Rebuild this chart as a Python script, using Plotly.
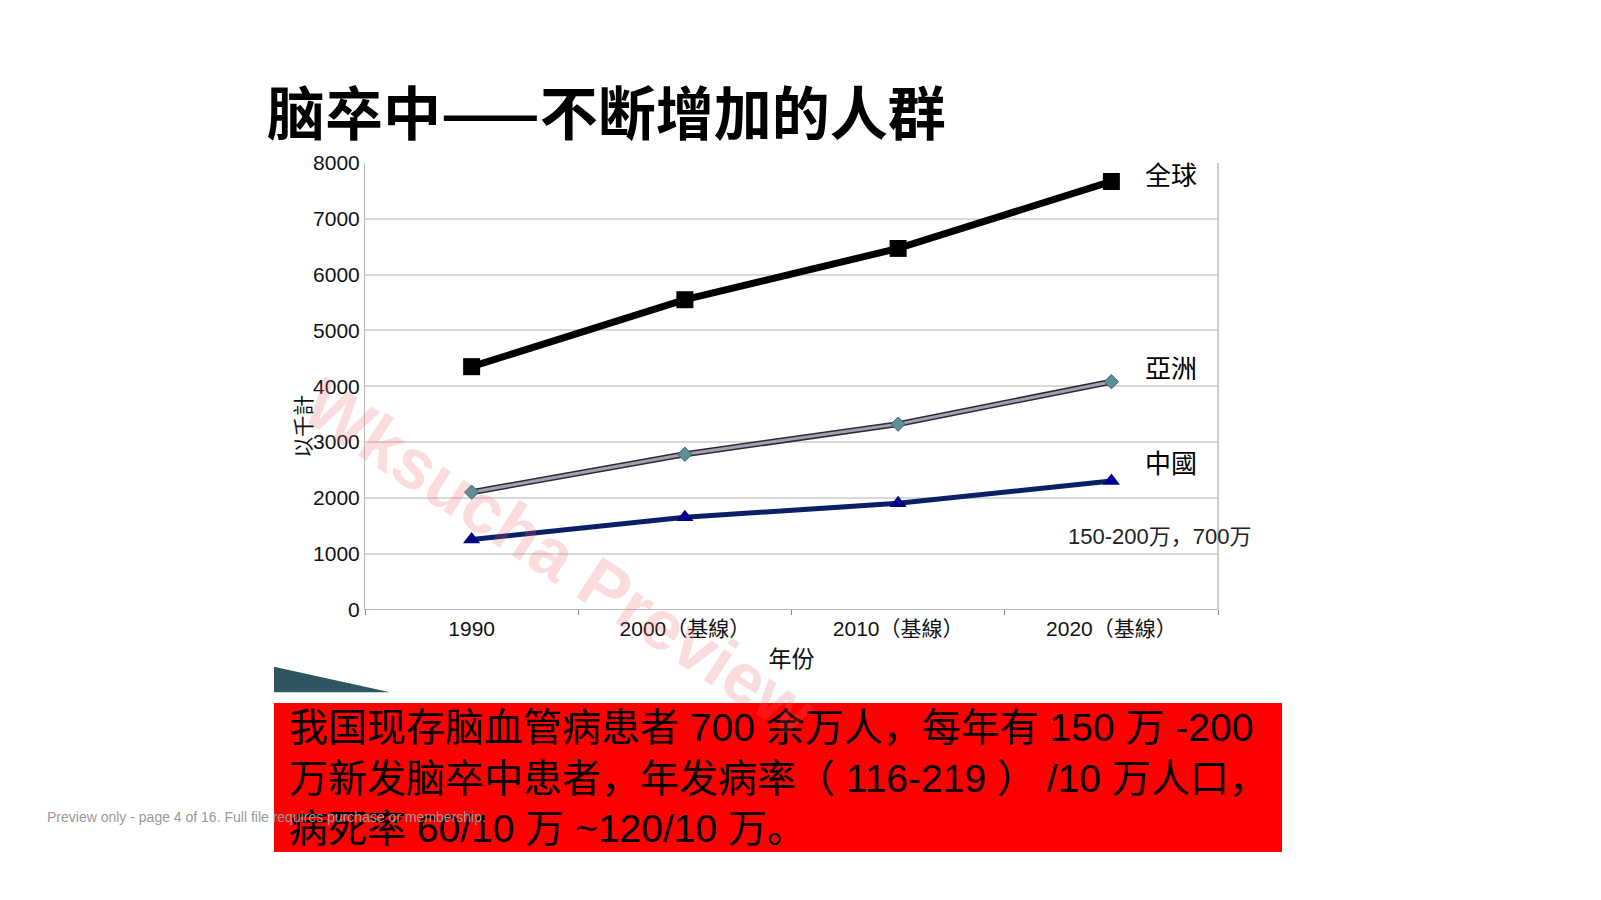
import plotly.graph_objects as go

years = ["1990", "2000（基線）", "2010（基線）", "2020（基線）"]
world = [4350, 5550, 6470, 7670]
asia = [2100, 2780, 3320, 4080]
china = [1250, 1650, 1900, 2300]
yticks = [0, 1000, 2000, 3000, 4000, 5000, 6000, 7000, 8000]

W, H = 1601, 900
def px(x): return x / W
def py(y): return 1 - y / H

fig = go.Figure()
fig.add_trace(go.Scatter(x=years, y=world, mode="lines+markers",
    line=dict(color="black", width=7), marker=dict(symbol="square", size=17, color="black")))
fig.add_trace(go.Scatter(x=years, y=asia, mode="lines",
    line=dict(color="#2e2a33", width=6)))
fig.add_trace(go.Scatter(x=years, y=asia, mode="lines+markers",
    line=dict(color="#a59fb5", width=3),
    marker=dict(symbol="diamond", size=11, color="#5f8f96", line=dict(color="#3f6a70", width=1))))
fig.add_trace(go.Scatter(x=years, y=china, mode="lines+markers",
    line=dict(color="#0a1f66", width=5), marker=dict(symbol="triangle-up", size=15, color="#00008b")))

font = "Liberation Sans, Arial, Noto Sans CJK SC, sans-serif"
fig.update_layout(
    width=W, height=H, showlegend=False, paper_bgcolor="white", plot_bgcolor="white",
    margin=dict(l=0, r=0, t=0, b=0),
    xaxis=dict(domain=[px(365), px(1218)], type="category", range=[-0.5, 3.5], showgrid=False,
               showline=True, linecolor="#bbbbbb", ticks="outside", tickson="boundaries",
               ticklen=5, tickcolor="#888888", tickfont=dict(size=21, color="#111", family=font),
               title=dict(text="年份", font=dict(size=23, color="#111", family=font), standoff=12)),
    yaxis=dict(domain=[py(613), py(155)], range=[0, 8000], tickvals=yticks,
               showgrid=True, gridcolor="#d9d9d9", gridwidth=2, showline=True, linecolor="#bbbbbb",
               zeroline=False, tickfont=dict(size=21, color="#111", family=font)),
)
fig.add_shape(type="line", xref="paper", yref="paper", x0=px(1218), x1=px(1218), y0=py(613), y1=py(155),
              line=dict(color="#cccccc", width=2))
ann = [
    ("脑卒中——不断增加的人群", 265, 101, 58, "black", "left", True),
    ("全球", 1143, 168, 26, "black", "left", False),
    ("亞洲", 1143, 366, 26, "black", "left", False),
    ("中國", 1143, 464, 26, "black", "left", False),
    ("150-200万，700万", 1066, 538, 22, "#222", "left", False),
]
for t, x, y, s, c, al, b in ann:
    fig.add_annotation(text=f"<b>{t}</b>" if b else t, x=px(x), y=py(y), xref="paper", yref="paper",
                       xanchor=al, yanchor="middle", showarrow=False,
                       font=dict(size=s, color=c, family="Noto Sans CJK SC, sans-serif" if b else font))
fig.add_annotation(text="以千計", x=px(290), y=py(425), xref="paper", yref="paper", textangle=-90,
                   showarrow=False, font=dict(size=21, color="#111", family=font))
fig.add_shape(type="path", xref="paper", yref="paper",
              path=f"M {px(274)},{py(698)} L {px(274)},{py(672)} L {px(390)},{py(698)} Z",
              fillcolor="#2f5560", line=dict(width=0))
fig.add_shape(type="rect", xref="paper", yref="paper", x0=px(274), x1=px(1282), y0=py(862), y1=py(709),
              fillcolor="#ff0000", line=dict(width=0))
fig.add_annotation(text="我国现存脑血管病患者 700 余万人，每年有 150 万 -200<br>万新发脑卒中患者，年发病率（ 116-219 ） /10 万人口，<br>病死率 60/10 万 ~120/10 万。",
                   x=px(287), y=py(786), xref="paper", yref="paper", xanchor="left", yanchor="middle",
                   align="left", showarrow=False,
                   font=dict(size=39, color="black", family="Liberation Sans, Noto Sans CJK SC, sans-serif"))
fig.add_annotation(text="Preview only - page 4 of 16. Full file requires purchase or membership.",
                   x=px(45), y=py(836), xref="paper", yref="paper", xanchor="left", showarrow=False,
                   font=dict(size=14, color="#999999", family=font))
fig.add_annotation(text="<b>Wksucha Preview</b>", x=px(560), y=py(560), xref="paper", yref="paper",
                   textangle=33, showarrow=False, font=dict(size=70, color="rgba(240,100,100,0.22)", family=font))
fig.write_html("out.html", config={"displayModeBar": False},
               post_script="document.body.style.margin='0';document.body.style.overflow='hidden';")
